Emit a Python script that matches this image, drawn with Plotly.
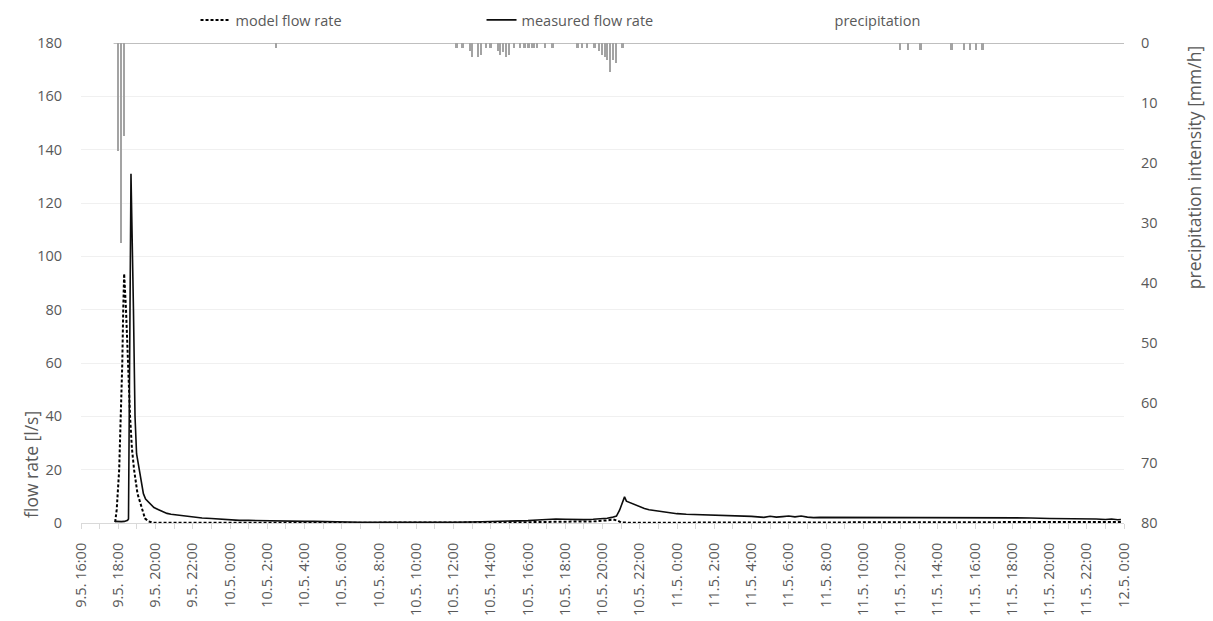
import datetime as dt
import plotly.graph_objects as go

# ---- measured flow rate [l/s] ----
measured_time = [
    "2019-05-09 17:50", "2019-05-09 18:00", "2019-05-09 18:10", "2019-05-09 18:20", "2019-05-09 18:30",
    "2019-05-09 18:33", "2019-05-09 18:41", "2019-05-09 18:49", "2019-05-09 18:54", "2019-05-09 18:59",
    "2019-05-09 19:07", "2019-05-09 19:14", "2019-05-09 19:21", "2019-05-09 19:28", "2019-05-09 19:37",
    "2019-05-09 19:45", "2019-05-09 19:55", "2019-05-09 20:10", "2019-05-09 20:25", "2019-05-09 20:37",
    "2019-05-09 20:50", "2019-05-09 21:05", "2019-05-09 21:20", "2019-05-09 21:41", "2019-05-09 22:00",
    "2019-05-09 22:30", "2019-05-09 23:00", "2019-05-09 23:30", "2019-05-10 00:00", "2019-05-10 00:30",
    "2019-05-10 01:00", "2019-05-10 01:30", "2019-05-10 02:00", "2019-05-10 02:30", "2019-05-10 03:00",
    "2019-05-10 03:30", "2019-05-10 04:00", "2019-05-10 04:30", "2019-05-10 05:00", "2019-05-10 05:30",
    "2019-05-10 06:00", "2019-05-10 07:00", "2019-05-10 08:00", "2019-05-10 09:00", "2019-05-10 10:00",
    "2019-05-10 11:00", "2019-05-10 12:00", "2019-05-10 13:00", "2019-05-10 14:00", "2019-05-10 15:00",
    "2019-05-10 16:00", "2019-05-10 16:30", "2019-05-10 17:00", "2019-05-10 17:30", "2019-05-10 18:00",
    "2019-05-10 18:30", "2019-05-10 19:00", "2019-05-10 19:30", "2019-05-10 20:00", "2019-05-10 20:15",
    "2019-05-10 20:30", "2019-05-10 20:45", "2019-05-10 20:55", "2019-05-10 21:05", "2019-05-10 21:11",
    "2019-05-10 21:17", "2019-05-10 21:25", "2019-05-10 21:35", "2019-05-10 21:45", "2019-05-10 22:00",
    "2019-05-10 22:15", "2019-05-10 22:30", "2019-05-10 22:46", "2019-05-10 23:00", "2019-05-10 23:29",
    "2019-05-11 00:00", "2019-05-11 00:30", "2019-05-11 01:00", "2019-05-11 01:30", "2019-05-11 02:00",
    "2019-05-11 02:30", "2019-05-11 03:00", "2019-05-11 03:30", "2019-05-11 04:00", "2019-05-11 04:20",
    "2019-05-11 04:40", "2019-05-11 05:00", "2019-05-11 05:20", "2019-05-11 05:40", "2019-05-11 06:00",
    "2019-05-11 06:20", "2019-05-11 06:40", "2019-05-11 07:00", "2019-05-11 07:20", "2019-05-11 07:40",
    "2019-05-11 08:00", "2019-05-11 09:00", "2019-05-11 10:00", "2019-05-11 10:30", "2019-05-11 11:00",
    "2019-05-11 12:00", "2019-05-11 13:00", "2019-05-11 14:00", "2019-05-11 15:00", "2019-05-11 16:00",
    "2019-05-11 17:00", "2019-05-11 18:00", "2019-05-11 19:00", "2019-05-11 20:00", "2019-05-11 21:00",
    "2019-05-11 22:00", "2019-05-11 22:30", "2019-05-11 23:00", "2019-05-11 23:20", "2019-05-11 23:40",
    "2019-05-11 23:50",
]
measured_flow = [
    0.6, 0.5, 0.5, 0.6, 1.0,
    1.5, 131.0, 80.0, 40.0, 26.0,
    20.0, 15.0, 11.0, 9.0, 8.0,
    7.0, 5.8, 5.0, 4.2, 3.6,
    3.3, 3.1, 2.8, 2.4, 2.1,
    1.9, 1.7, 1.4, 1.1, 1.0,
    1.0, 0.9, 0.9, 0.8, 0.8,
    0.7, 0.6, 0.6, 0.5, 0.5,
    0.4, 0.3, 0.25, 0.2, 0.2,
    0.25, 0.3, 0.4, 0.5, 0.7,
    0.9, 1.1, 1.4, 1.5, 1.4,
    1.3, 1.25, 1.4, 1.6, 1.8,
    2.1, 2.6, 4.8, 8.5, 9.8,
    8.2, 7.8, 7.3, 6.6, 6.0,
    5.4, 5.0, 4.7, 4.4, 4.0,
    3.5, 3.3, 3.2, 3.1, 3.0,
    3.0, 2.9, 2.8, 2.5, 2.3,
    2.1, 2.5, 2.2, 2.4, 2.6,
    2.3, 2.6, 2.2, 2.0, 2.1,
    2.1, 2.0, 1.9, 2.1, 2.0,
    1.9, 2.0, 1.9, 1.9, 2.0,
    1.9, 2.0, 1.9, 1.7, 1.6,
    1.7, 1.5, 1.3, 1.5, 1.2,
    1.3,
]

# ---- model flow rate [l/s] ----
model_time = [
    "2019-05-09 17:50", "2019-05-09 17:55", "2019-05-09 18:03", "2019-05-09 18:09", "2019-05-09 18:13",
    "2019-05-09 18:16", "2019-05-09 18:19", "2019-05-09 18:25", "2019-05-09 18:31", "2019-05-09 18:38",
    "2019-05-09 18:44", "2019-05-09 18:51", "2019-05-09 19:02", "2019-05-09 19:16", "2019-05-09 19:26",
    "2019-05-09 19:37", "2019-05-09 19:53", "2019-05-10 06:00", "2019-05-10 12:00", "2019-05-10 14:00",
    "2019-05-10 16:00", "2019-05-10 18:00", "2019-05-10 19:30", "2019-05-10 20:15", "2019-05-10 20:35",
    "2019-05-10 20:50", "2019-05-10 21:00", "2019-05-10 21:30", "2019-05-11 06:00", "2019-05-11 10:00",
    "2019-05-11 14:00", "2019-05-11 20:00", "2019-05-11 23:50",
]
model_flow = [
    0.3, 5.0, 20.0, 40.0, 60.0,
    80.0, 93.5, 80.0, 60.0, 40.0,
    28.0, 20.0, 11.0, 5.0, 1.75,
    0.6, 0.1, 0.1, 0.15, 0.2,
    0.3, 0.5, 0.6, 1.0, 1.3,
    0.8, 0.2, 0.1, 0.15, 0.3,
    0.4, 0.4, 0.4,
]

# ---- precipitation intensity [mm/h] ----
precip_time = [
    "2019-05-09 18:00", "2019-05-09 18:10", "2019-05-09 18:20", "2019-05-10 02:30",
    "2019-05-10 12:10", "2019-05-10 12:30", "2019-05-10 12:55", "2019-05-10 13:00", "2019-05-10 13:20",
    "2019-05-10 13:30", "2019-05-10 13:45", "2019-05-10 14:00", "2019-05-10 14:25", "2019-05-10 14:30",
    "2019-05-10 14:40", "2019-05-10 14:50", "2019-05-10 15:00", "2019-05-10 15:15", "2019-05-10 15:35",
    "2019-05-10 15:50", "2019-05-10 16:00", "2019-05-10 16:05", "2019-05-10 16:15", "2019-05-10 16:20",
    "2019-05-10 16:30", "2019-05-10 16:55", "2019-05-10 17:20", "2019-05-10 18:40", "2019-05-10 18:55",
    "2019-05-10 19:10", "2019-05-10 19:35", "2019-05-10 19:50", "2019-05-10 20:00", "2019-05-10 20:10",
    "2019-05-10 20:15", "2019-05-10 20:25", "2019-05-10 20:35", "2019-05-10 20:45", "2019-05-10 21:05",
    "2019-05-11 12:00", "2019-05-11 12:25", "2019-05-11 13:05", "2019-05-11 14:45", "2019-05-11 15:25",
    "2019-05-11 15:45", "2019-05-11 16:05", "2019-05-11 16:25",
]
precip_intensity = [
    18.0, 33.3, 15.5, 0.8,
    0.9, 0.8, 1.3, 2.3, 2.3,
    2.0, 0.9, 0.8, 1.3, 2.0,
    1.5, 2.3, 2.0, 0.9, 0.8,
    0.9, 0.9, 0.9, 0.9, 0.9,
    0.9, 0.9, 0.9, 0.9, 0.9,
    0.9, 0.9, 1.3, 2.0, 2.3,
    2.9, 4.8, 2.9, 3.4, 0.9,
    1.1, 1.1, 1.1, 1.1, 1.1,
    1.1, 1.1, 1.1,
]

# ---- axis settings ----
x_start = dt.datetime(2019, 5, 9, 16, 0)
x_end = dt.datetime(2019, 5, 12, 0, 0)
series_start = dt.datetime(2019, 5, 9, 17, 45)
tick_step_hours = 2

tick_vals = []
t = x_start
while t <= x_end:
    tick_vals.append(t)
    t += dt.timedelta(hours=tick_step_hours)
tick_text = [f"{d.day}.{d.month}. {d.hour}:{d.minute:02d}" for d in tick_vals]

TEXT = "#595959"
FONT = "Open Sans"
TICK_SIZE = 14.5
TITLE_SIZE = 17.5

fig = go.Figure()

fig.add_trace(go.Bar(
    x=precip_time, y=precip_intensity, yaxis="y2", name="precipitation",
    marker=dict(color="#a3a3a3", line=dict(width=0)),
    width=6 * 60 * 1000, showlegend=False,
))

fig.add_trace(go.Scatter(
    x=model_time, y=model_flow, mode="lines", name="model flow rate",
    line=dict(color="#000000", width=2, dash="3px,2px"),
    legendwidth=241,
))
fig.add_trace(go.Scatter(
    x=measured_time, y=measured_flow, mode="lines", name="measured flow rate",
    line=dict(color="#0d0d0d", width=1.6),
    legendwidth=268,
))
# legend entry for the precipitation bars
fig.add_trace(go.Scatter(
    x=[None], y=[None], mode="lines", name="precipitation",
    line=dict(color="rgba(0,0,0,0)", width=1),
))

# horizontal base line of the precipitation axis
fig.add_shape(
    type="line", xref="x", yref="y2",
    x0=series_start, x1=x_end, y0=0, y1=0,
    line=dict(color="#bfbfbf", width=2), layer="below",
)

fig.update_layout(
    width=1213, height=621,
    margin=dict(l=81, r=89, t=43, b=98, autoexpand=False),
    paper_bgcolor="white", plot_bgcolor="white",
    font=dict(family=FONT, size=TICK_SIZE, color=TEXT),
    bargap=0,
    showlegend=True,
    legend=dict(
        orientation="h", x=0.1098, y=1.048, xanchor="left", yanchor="middle",
        entrywidthmode="pixels",
        font=dict(family=FONT, size=TICK_SIZE, color=TEXT),
        bgcolor="rgba(0,0,0,0)",
    ),
    xaxis=dict(
        type="date", range=[x_start, x_end],
        tickmode="array", tickvals=tick_vals, ticktext=tick_text,
        tickangle=-90, tickfont=dict(family=FONT, size=TICK_SIZE, color=TEXT),
        showgrid=False, zeroline=False,
        showline=True, linecolor="#d9d9d9", linewidth=1,
        ticks="outside", ticklen=5, tickcolor="#d9d9d9",
        minor=dict(ticks="outside", ticklen=5, tickcolor="#d9d9d9", dtick=3600000, showgrid=False),
        ticklabelstandoff=8, automargin=False,
    ),
    yaxis=dict(
        range=[0, 180], tickmode="linear", tick0=0, dtick=20,
        showgrid=True, gridcolor="#f0f0f0", gridwidth=1,
        zeroline=False, showline=False, ticks="",
        tickfont=dict(family=FONT, size=TICK_SIZE, color=TEXT),
        ticklabelstandoff=18, automargin=False,
    ),
    yaxis2=dict(
        overlaying="y", side="right", range=[80, 0],
        tickmode="linear", tick0=0, dtick=10,
        showgrid=False, zeroline=False, showline=False, ticks="",
        tickfont=dict(family=FONT, size=TICK_SIZE, color=TEXT),
        ticklabelstandoff=16, automargin=False,
    ),
)

# axis titles
fig.add_annotation(
    text="flow rate [l/s]", xref="paper", yref="paper",
    x=-0.048, y=0.123, textangle=-90, showarrow=False,
    xanchor="center", yanchor="middle",
    font=dict(family=FONT, size=TITLE_SIZE, color=TEXT),
)
fig.add_annotation(
    text="precipitation intensity [mm/h]", xref="paper", yref="paper",
    x=1.0665, y=0.74, textangle=-90, showarrow=False,
    xanchor="center", yanchor="middle",
    font=dict(family=FONT, size=TITLE_SIZE, color=TEXT),
)

fig.write_html("out.html")
